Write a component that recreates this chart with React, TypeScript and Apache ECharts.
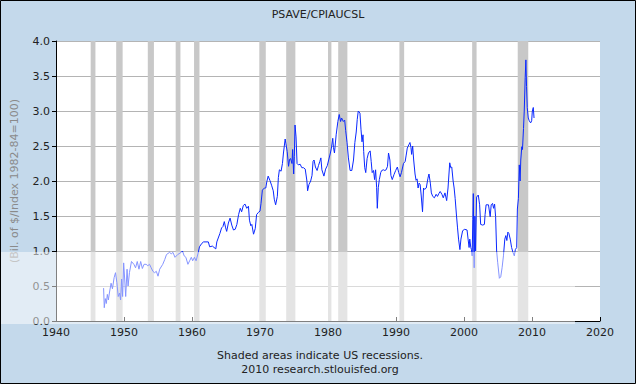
import React, { useEffect, useRef } from "react";
import * as echarts from "echarts";

const dates = [
  1947.0, 1947.1, 1947.25, 1947.4, 1947.55, 1947.7, 1947.85, 1948.1, 1948.3, 1948.55, 1948.75, 1948.95,
  1949.15, 1949.35, 1949.5, 1949.65, 1949.8, 1949.95, 1950.1, 1950.25, 1950.45, 1950.6, 1950.8, 1951.1,
  1951.45, 1951.7, 1951.95, 1952.2, 1952.45, 1952.7, 1952.95, 1953.25, 1953.5, 1953.75, 1954.0, 1954.25,
  1954.5, 1954.75, 1955.0, 1955.25, 1955.7, 1956.0, 1956.25, 1956.7, 1956.95, 1957.2, 1957.5, 1957.9,
  1958.4, 1958.6, 1958.85, 1959.1, 1959.4, 1959.65, 1959.9, 1960.1, 1960.35, 1960.6, 1960.9, 1961.1,
  1961.45, 1961.7, 1962.4, 1962.6, 1963.0, 1963.5, 1963.65, 1964.1, 1964.35, 1964.55, 1964.75, 1964.95,
  1965.1, 1965.35, 1965.6, 1965.85, 1966.1, 1966.35, 1966.6, 1966.85, 1967.1, 1967.3, 1967.55, 1967.8,
  1968.05, 1968.3, 1968.45, 1968.65, 1968.8, 1969.05, 1969.3, 1969.5, 1969.75, 1970.0, 1970.15, 1970.35,
  1970.65, 1970.85, 1971.0, 1971.2, 1971.45, 1971.7, 1971.95, 1972.1, 1972.3, 1972.55, 1972.7, 1972.85,
  1973.1, 1973.3, 1973.45, 1973.7, 1973.8, 1974.0, 1974.2, 1974.35, 1974.5, 1974.7, 1974.8, 1974.95,
  1975.05, 1975.15, 1975.3, 1975.45, 1975.65, 1975.9, 1976.15, 1976.4, 1976.65, 1976.9, 1977.0, 1977.2,
  1977.45, 1977.65, 1977.8, 1977.95, 1978.15, 1978.4, 1978.6, 1978.8, 1978.95, 1979.1, 1979.4, 1979.65,
  1979.9, 1980.1, 1980.35, 1980.5, 1980.7, 1980.8, 1980.95, 1981.2, 1981.45, 1981.65, 1981.85, 1982.0,
  1982.25, 1982.45, 1982.6, 1982.8, 1983.0, 1983.25, 1983.5, 1983.75, 1983.95, 1984.15, 1984.3, 1984.45,
  1984.7, 1984.85, 1985.0, 1985.15, 1985.25, 1985.4, 1985.55, 1985.75, 1985.95, 1986.2, 1986.35, 1986.5,
  1986.7, 1986.85, 1987.0, 1987.15, 1987.25, 1987.4, 1987.55, 1987.75, 1987.9, 1988.15, 1988.35, 1988.55,
  1988.75, 1988.9, 1989.1, 1989.25, 1989.45, 1989.7, 1989.95, 1990.2, 1990.4, 1990.6, 1990.8, 1991.1,
  1991.35, 1991.5, 1991.66, 1991.9, 1992.05, 1992.2, 1992.3, 1992.45, 1992.6, 1992.8, 1992.95, 1993.1,
  1993.25, 1993.4, 1993.55, 1993.7, 1993.9, 1994.05, 1994.2, 1994.45, 1994.7, 1994.85, 1995.05, 1995.2,
  1995.4, 1995.65, 1995.9, 1996.1, 1996.3, 1996.5, 1996.75, 1996.95, 1997.2, 1997.45, 1997.65, 1997.9,
  1998.05, 1998.2, 1998.4, 1998.55, 1998.7, 1998.9, 1999.05, 1999.2, 1999.4, 1999.55, 1999.8, 2000.1,
  2000.45, 2000.6, 2000.75, 2000.85, 2001.0, 2001.1, 2001.2, 2001.3, 2001.37, 2001.45, 2001.5, 2001.6,
  2001.7, 2001.85, 2002.1, 2002.3, 2002.45, 2002.75, 2003.0, 2003.1, 2003.25, 2003.6, 2003.85, 2004.0,
  2004.2, 2004.35, 2004.5, 2004.65, 2004.8, 2004.95, 2005.2, 2005.4, 2005.6, 2005.8, 2006.0, 2006.15,
  2006.3, 2006.45, 2006.6, 2006.8, 2007.0, 2007.2, 2007.4, 2007.55, 2007.75, 2007.85, 2008.0, 2008.13,
  2008.25, 2008.35, 2008.5, 2008.6, 2008.75, 2008.86, 2009.0, 2009.1, 2009.2, 2009.3, 2009.45, 2009.6,
  2009.8, 2009.95, 2010.05, 2010.19, 2010.3,
];

const savings = [
  0.47, 0.19, 0.32, 0.25, 0.38, 0.3, 0.4, 0.54, 0.46, 0.62, 0.69, 0.55,
  0.35, 0.4, 0.3, 0.6, 0.35, 0.83, 0.6, 0.35, 0.74, 0.5, 0.69, 0.85,
  0.81, 0.76, 0.85, 0.74, 0.85, 0.75, 0.81, 0.81, 0.79, 0.81, 0.76, 0.71,
  0.69, 0.71, 0.64, 0.74, 0.81, 0.88, 0.95, 0.98, 0.96, 0.98, 0.91, 0.95,
  0.98, 1.0, 0.93, 0.91, 0.81, 0.86, 0.91, 0.86, 0.91, 0.86, 0.97, 1.06,
  1.11, 1.13, 1.13, 1.06, 1.07, 1.03, 1.13, 1.25, 1.33, 1.35, 1.42, 1.33,
  1.28, 1.4, 1.47, 1.37, 1.3, 1.31, 1.38, 1.52, 1.61, 1.56, 1.65, 1.67,
  1.61, 1.64, 1.44, 1.36, 1.38, 1.24, 1.32, 1.52, 1.55, 1.57, 1.68, 1.87,
  1.9, 1.9, 1.99, 2.07, 2.01, 1.94, 1.86, 1.74, 1.66, 1.78, 2.05, 2.16,
  2.14, 2.25, 2.4, 2.6, 2.54, 2.42, 2.21, 2.31, 2.32, 2.25, 2.45, 2.1,
  2.35, 2.8, 2.63, 2.25, 2.23, 2.24, 2.19, 2.19, 2.17, 2.0, 1.86, 1.95,
  2.0, 2.08, 2.28, 2.3, 2.2, 2.15, 2.22, 2.28, 2.33, 2.16, 2.07, 2.17,
  2.22, 2.3, 2.4, 2.47, 2.61, 2.48, 2.4, 2.66, 2.85, 2.95, 2.85, 2.9,
  2.85, 2.87, 2.72, 2.55, 2.33, 2.15, 2.15, 2.3, 2.55, 2.7, 2.88, 3.0,
  2.97, 2.74, 2.56, 2.66, 2.42, 2.19, 2.12, 2.32, 2.4, 2.43, 2.28, 2.12,
  2.15, 2.02, 2.16, 1.91, 1.61, 1.91, 2.02, 2.12, 2.15, 2.16, 2.15, 2.16,
  2.21, 2.4, 2.3, 2.08, 2.02, 2.09, 2.15, 2.2, 2.12, 2.06, 2.12, 2.25,
  2.28, 2.37, 2.47, 2.52, 2.55, 2.48, 2.38, 2.5, 2.3, 2.1, 2.01, 2.03,
  1.9, 1.97, 1.95, 1.8, 1.56, 1.9, 1.88, 1.9, 2.04, 2.1, 1.97, 1.83,
  1.78, 1.76, 1.81, 1.78, 1.82, 1.85, 1.81, 1.76, 1.83, 1.72, 1.9, 2.26,
  2.19, 2.2, 2.0, 1.9, 1.75, 1.5, 1.33, 1.17, 1.02, 1.17, 1.29, 1.31,
  1.3, 1.17, 1.05, 1.17, 1.05, 1.02, 0.93, 1.45, 1.82, 1.0, 0.76, 1.5,
  1.0, 1.77, 1.8, 1.66, 1.38, 1.37, 1.38, 1.52, 1.66, 1.66, 1.49, 1.66,
  1.68, 1.61, 1.67, 1.49, 1.0, 0.84, 0.61, 0.63, 0.76, 0.93, 1.17, 1.22,
  1.15, 1.27, 1.25, 1.17, 1.05, 0.98, 0.93, 1.02, 1.05, 1.6, 1.75, 2.23,
  2.0, 2.3, 2.49, 2.45, 2.75, 3.0, 3.48, 3.73, 3.35, 3.05, 2.9, 2.86,
  2.83, 2.86, 3.0, 3.05, 2.9,
];

const recessionStarts = [1945.1, 1948.85, 1953.5, 1957.6, 1960.3, 1969.9, 1973.85, 1980.0, 1981.5, 1990.5, 2001.2, 2007.9];
const recessionEnds = [1945.8, 1949.8, 1954.4, 1958.3, 1961.1, 1970.85, 1975.2, 1980.5, 1982.85, 1991.2, 2001.85, 2009.45];

const FONT = "DejaVu Sans";

export default function App() {
  const ref = useRef<HTMLDivElement>(null);
  useEffect(() => {
    if (!ref.current) return;
    const chart = echarts.init(ref.current, null, { renderer: "svg" });
    chart.setOption({
      animation: false,
      backgroundColor: "#c4d9eb",
      textStyle: { fontFamily: FONT },
      grid: { left: 56, top: 41, right: 36, bottom: 63, show: true, backgroundColor: "#ffffff", borderWidth: 0 },
      xAxis: {
        type: "value",
        min: 1940,
        max: 2020,
        interval: 10,
        axisLine: { show: true, lineStyle: { color: "#000", width: 1 } },
        axisTick: { show: true, inside: true, length: 4, lineStyle: { color: "#000" } },
        axisLabel: { color: "#222", fontSize: 11, fontFamily: FONT, margin: 6, formatter: (v: number) => String(v) },
        splitLine: { show: false },
      },
      yAxis: {
        type: "value",
        min: 0,
        max: 4,
        interval: 0.5,
        name: "(Bil. of $/Index 1982-84=100)",
        nameLocation: "middle",
        nameGap: 36,
        nameTextStyle: { color: "#8a8a8a", fontSize: 11, fontFamily: FONT },
        axisLine: { show: true, lineStyle: { color: "#000", width: 1 } },
        axisTick: { show: true, inside: false, length: 4, lineStyle: { color: "#000" } },
        axisLabel: { color: "#222", fontSize: 11, fontFamily: FONT, margin: 6, formatter: (v: number) => v.toFixed(1) },
        splitLine: { show: true, lineStyle: { color: "#b4b4b4", width: 1 } },
      },
      series: [
        {
          type: "line",
          data: dates.map((d, i) => [d, savings[i]]),
          showSymbol: false,
          lineStyle: { color: "#0a28ff", width: 1 },
          itemStyle: { color: "#0a28ff" },
          markArea: {
            silent: true,
            itemStyle: { color: "#c8c8c8" },
            data: recessionStarts.map((s, i) => [{ xAxis: s }, { xAxis: recessionEnds[i] }]),
          },
        },
      ],
      graphic: [
        {
          type: "rect",
          z: 100,
          silent: true,
          shape: { x: 0, y: 252, width: 575, height: 72 },
          style: { fill: "rgba(255,255,255,0.5)" },
        },
        {
          type: "rect",
          z: 101,
          silent: true,
          shape: { x: 0.5, y: 0.5, width: 635, height: 383 },
          style: { fill: "none", stroke: "#000", lineWidth: 1 },
        },
        {
          type: "text",
          x: 318,
          y: 14,
          z: 101,
          style: { text: "PSAVE/CPIAUCSL", fill: "#222", font: `11px "${FONT}"`, textAlign: "center", textVerticalAlign: "middle" },
        },
        {
          type: "text",
          x: 320,
          y: 355,
          z: 101,
          style: { text: "Shaded areas indicate US recessions.", fill: "#222", font: `11px "${FONT}"`, textAlign: "center", textVerticalAlign: "middle" },
        },
        {
          type: "text",
          x: 320,
          y: 369,
          z: 101,
          style: { text: "2010 research.stlouisfed.org", fill: "#222", font: `11px "${FONT}"`, textAlign: "center", textVerticalAlign: "middle" },
        },
      ],
    });
    return () => chart.dispose();
  }, []);
  return <div ref={ref} style={{ position: "absolute", left: 0, top: 0, width: 636, height: 384 }} />;
}
